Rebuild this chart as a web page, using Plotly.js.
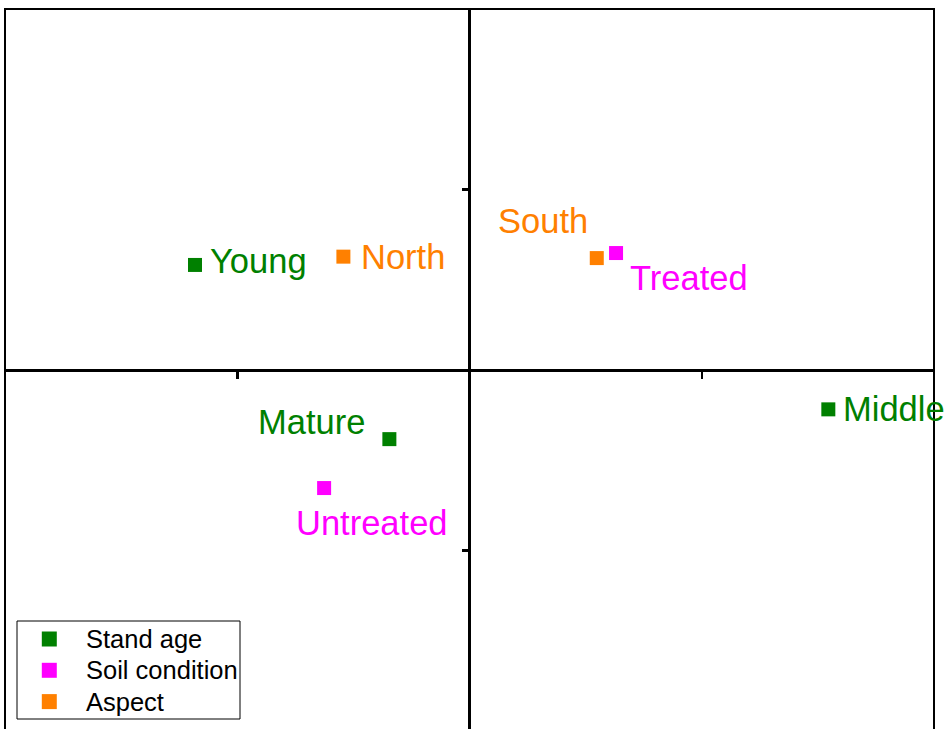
<!DOCTYPE html>
<html>
<head>
<meta charset="utf-8">
<script src="https://cdn.plot.ly/plotly-3.0.1.min.js"></script>
<style>
html, body { margin: 0; padding: 0; overflow: hidden; background: #fff; }
#chart { width: 944px; height: 740px; }
</style>
</head>
<body>
<div id="chart"></div>
<script>
// Data
var groupNames = ["Stand age", "Soil condition", "Aspect"];
var groupColors = ["#008000", "#FF00FF", "#FF8000"];

var standLabels = ["Young", "Mature", "Middle"];
var standX = [-1.182, -0.345, 1.545];
var standY = [0.582, -0.383, -0.218];

var soilLabels = ["Treated", "Untreated"];
var soilX = [0.631, -0.626];
var soilY = [0.648, -0.654];

var aspectLabels = ["North", "South"];
var aspectX = [-0.543, 0.548];
var aspectY = [0.628, 0.620];

var axisTicks = [-1, 1];

var groups = [
  {labels: standLabels, x: standX, y: standY},
  {labels: soilLabels, x: soilX, y: soilY},
  {labels: aspectLabels, x: aspectX, y: aspectY}
];

// label placement styles (pixel offsets from marker)
var labelStyle = {
  "Young":     {xanchor: "left",   xshift: 13,  yshift: 4},
  "North":     {xanchor: "left",   xshift: 16,  yshift: 0},
  "South":     {xanchor: "right",  xshift: -7,  yshift: 37},
  "Treated":   {xanchor: "left",   xshift: 12,  yshift: -25},
  "Mature":    {xanchor: "right",  xshift: -22, yshift: 17},
  "Untreated": {xanchor: "center", xshift: 48,  yshift: -35},
  "Middle":    {xanchor: "left",   xshift: 13,  yshift: 0}
};

var FONT = "Liberation Sans, Arial, sans-serif";

// plot-area geometry in pixels (for the hand-made legend)
var W = 944, H = 740, ML = 5, MR = 10, MT = 9, MB = 9;
var PW = W - ML - MR, PH = H - MT - MB;
function px(x) { return (x - ML) / PW; }
function py(y) { return (H - MB - y) / PH; }

var traces = [];
var annotations = [];
var shapes = [{
  type: "rect", xref: "paper", yref: "paper",
  x0: 0, x1: 1, y0: 0, y1: 1,
  line: {color: "#000", width: 2}
}];

groups.forEach(function (g, gi) {
  traces.push({
    type: "scatter",
    mode: "markers",
    name: groupNames[gi],
    x: g.x,
    y: g.y,
    marker: {symbol: "square", size: 14, color: groupColors[gi]},
    hoverinfo: "text",
    text: g.labels,
    showlegend: false
  });
  g.labels.forEach(function (lab, i) {
    var s = labelStyle[lab];
    annotations.push({
      x: g.x[i], y: g.y[i], xref: "x", yref: "y",
      text: lab, showarrow: false,
      xanchor: s.xanchor, yanchor: "middle",
      xshift: s.xshift, yshift: s.yshift,
      font: {family: FONT, size: 34.5, color: groupColors[gi]}
    });
  });
});

// legend (box, swatches, text) laid out in pixels
var legBox = {x0: 17, x1: 240, y0: 621, y1: 719};
var legRow0 = 639, legRowGap = 31.3, legSwX = 49.3, legSw = 15, legTextX = 84;
shapes.push({
  type: "rect", xref: "paper", yref: "paper",
  x0: px(legBox.x0), x1: px(legBox.x1), y0: py(legBox.y1), y1: py(legBox.y0),
  line: {color: "#000", width: 1}, fillcolor: "#fff", layer: "above"
});
groupNames.forEach(function (name, gi) {
  var cy = legRow0 + gi * legRowGap;
  shapes.push({
    type: "rect", xref: "paper", yref: "paper",
    x0: px(legSwX - legSw / 2), x1: px(legSwX + legSw / 2),
    y0: py(cy + legSw / 2), y1: py(cy - legSw / 2),
    line: {width: 0}, fillcolor: groupColors[gi], layer: "above"
  });
  annotations.push({
    x: px(legTextX), y: py(cy), xref: "paper", yref: "paper",
    text: name, showarrow: false, xanchor: "left", yanchor: "middle",
    font: {family: FONT, size: 25.5, color: "#000"}
  });
});

var layout = {
  width: W,
  height: H,
  margin: {l: ML, r: MR, t: MT, b: MB, pad: 0},
  paper_bgcolor: "#fff",
  plot_bgcolor: "#fff",
  showlegend: false,
  xaxis: {
    range: [-2, 2],
    anchor: "free", position: 0.5,
    showgrid: false, showline: false,
    zeroline: true, zerolinecolor: "#000", zerolinewidth: 3,
    tickmode: "array", tickvals: axisTicks,
    ticks: "outside", ticklen: 8, tickwidth: 2.5, tickcolor: "#000",
    showticklabels: false, fixedrange: true
  },
  yaxis: {
    range: [-2, 2],
    anchor: "free", position: 0.5,
    showgrid: false, showline: false,
    zeroline: true, zerolinecolor: "#000", zerolinewidth: 3,
    tickmode: "array", tickvals: axisTicks,
    ticks: "outside", ticklen: 8, tickwidth: 2.5, tickcolor: "#000",
    showticklabels: false, fixedrange: true
  },
  shapes: shapes,
  annotations: annotations,
  font: {family: FONT}
};

Plotly.newPlot("chart", traces, layout, {displayModeBar: false, staticPlot: true});
</script>
</body>
</html>
